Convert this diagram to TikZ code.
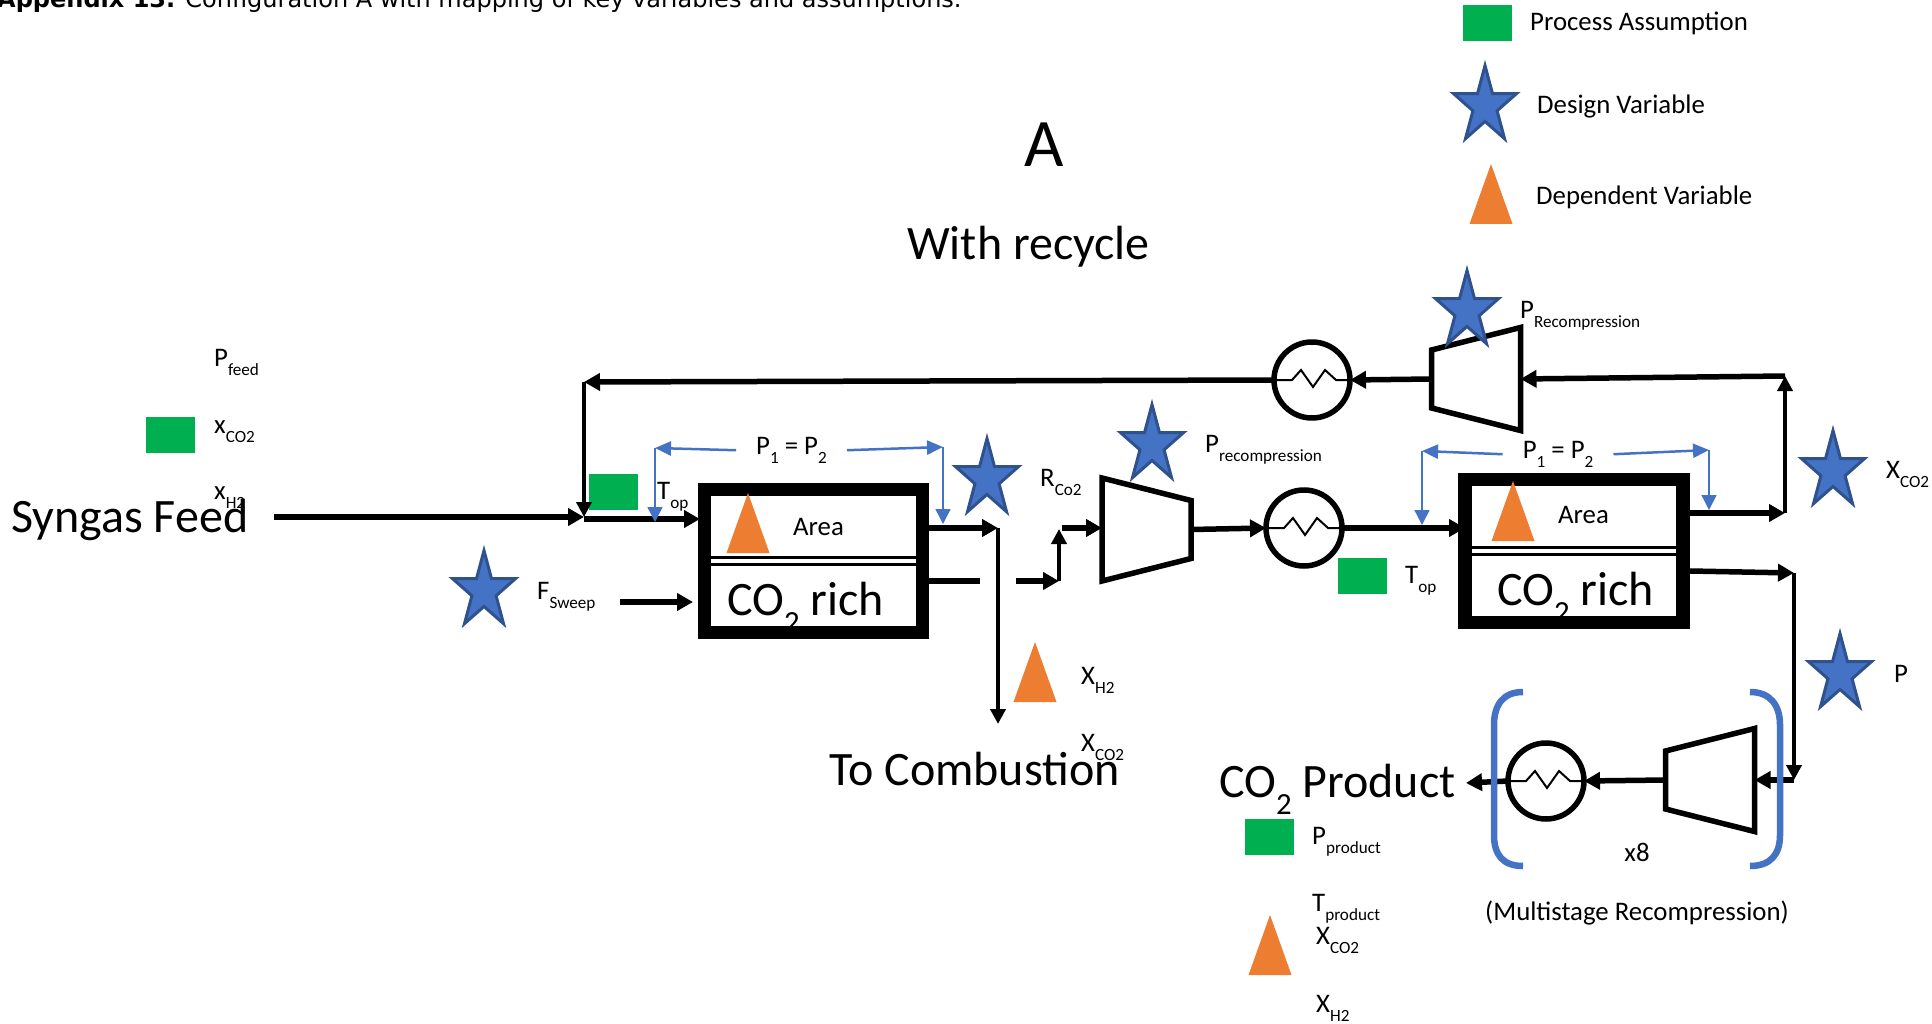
\documentclass[tikz,border=0pt]{standalone}
\usepackage{fontspec}
\setmainfont{Carlito}
\newfontfamily\capfont{DejaVu Sans}
\usetikzlibrary{positioning, calc, arrows.meta, shapes.geometric}
\definecolor{flowblue}{HTML}{4472C4}
\definecolor{staredge}{HTML}{2F528F}
\definecolor{assumegreen}{HTML}{00B050}
\definecolor{deporange}{HTML}{ED7D31}
\newcommand{\lowsub}[1]{\raisebox{-0.36em}{\scalebox{0.64}{#1}}}
\tikzset{
	lbl/.style={anchor=base west, inner sep=0pt, font=\fontsize{26.8}{32}\selectfont},
	biglbl/.style={anchor=base west, inner sep=0pt, font=\fontsize{48}{56}\selectfont},
	flowlbl/.style={anchor=base, inner ysep=0pt, inner xsep=20pt, font=\fontsize{26.8}{32}\selectfont},
	pipe/.style={line width=5.5pt, -{Triangle[length=16pt, width=17pt]}},
	riser/.style={line width=4pt, -{Triangle[length=15pt, width=15pt]}},
	blueflow/.style={draw=flowblue, line width=2.5pt, -{Triangle[length=16pt, width=14pt]}},
	bluedrop/.style={draw=flowblue, line width=1.5pt, -{Triangle[length=15pt, width=15pt]}},
	bracket/.style={draw=flowblue, line width=6.5pt},
	membrane/.style={draw, line width=13.5pt, minimum width=218pt, minimum height=143pt, outer sep=0pt},
	hxring/.style={draw, circle, line width=5.5pt, minimum size=76pt, outer sep=0pt},
	coil/.style={line width=2pt},
	compbox/.style={minimum width=89pt, minimum height=103pt, inner sep=0pt, outer sep=0pt},
	compline/.style={line width=5.5pt},
	greenmark/.style={fill=assumegreen, minimum width=49pt, minimum height=36pt, inner sep=0pt},
	starmark/.style={star, star points=5, star point ratio=2.618, fill=flowblue, draw=staredge, line width=3pt, minimum size=66.5pt, inner sep=0pt, outer sep=0pt, yscale=1.216, transform shape},
	depmark/.pic={\fill[deporange] (0,0) -- (21.5,60) -- (-21.5,60) --cycle;}
}

\begin{document}
\begin{tikzpicture}[x=1pt, y=-1pt]
	\useasboundingbox (0,0) rectangle (1932,1024);
	\node[anchor=base west, inner sep=0pt, font=\capfont\fontsize{24}{29}\selectfont] (caption) at (-3,8) {\textbf{Appendix 13.} Configuration A with mapping of key variables and assumptions.};
	% legend
	\node[greenmark] (keygreen) at (1487.5,23) {};
	\node[lbl] (keygreentxt) at (1530,31) {Process Assumption};
	\node[starmark] (keystar) at (1485,106) {};
	\node[lbl] (keystartxt) at (1537,114) {Design Variable};
	\pic at (1491,164) {depmark};
	\node[lbl] (keydeptxt) at (1536,205) {Dependent Variable};
	\node[anchor=base, inner sep=0pt, font=\fontsize{68}{80}\selectfont] (title) at (1044,167) {A};
	\node[biglbl] (subtitle) at (907,260) {With recycle};
	% feed side
	\node[lbl] (pfeed) at (214,366) {P\lowsub{feed}};
	\node[greenmark] (feedgreen) at (170.5,435) {};
	\node[lbl] (xcofeed) at (214,433) {x\lowsub{CO2}};
	\node[lbl] (xhfeed) at (214,499) {x\lowsub{H2}};
	\node[biglbl] (syngas) at (11,532) {Syngas Feed};
	\node[starmark] (sweepstar) at (484,591) {};
	\node[lbl] (fsweep) at (537,599) {F\lowsub{Sweep}};
	\node[greenmark] (topgreena) at (613.5,492) {};
	\node[lbl] (topa) at (657,499) {T\lowsub{op}};
	% units
	\node[membrane] (mema) at (813.5,561) {};
	\node[membrane] (memb) at (1574,551) {};
	\node[hxring] (hxa) at (1304,528) {};
	\node[hxring] (hxb) at (1312,380) {};
	\node[hxring] (hxc) at (1546,781) {};
	\node[compbox] (compa) at (1146.5,529.5) {};
	\node[compbox] (compb) at (1476,379) {};
	\node[compbox] (compc) at (1710,780) {};
	\draw[compline] (compa.north west) -- ($(compa.east)+(0,-29)$) -- ($(compa.east)+(0,29)$) -- (compa.south west) --cycle;
	\foreach \comp in {compb, compc} {
		\draw[compline] (\comp.north east) -- ($(\comp.west)+(0,-29)$) -- ($(\comp.west)+(0,29)$) -- (\comp.south east) --cycle;
	}
	\foreach \mem in {mema, memb} {
		\draw[line width=3.5pt] ($(\mem.west)+(0,-3.7)$) -- ($(\mem.east)+(0,-3.7)$);
		\draw[line width=3.5pt] ($(\mem.west)+(0,3.7)$) -- ($(\mem.east)+(0,3.7)$);
	}
	\foreach \hx in {hxa, hxb, hxc} {
		\draw[coil] (\hx.west) -- ++(18,0) -- ++(9,-10) -- ++(12,17) -- ++(12,-17) -- ++(11,10) -- (\hx.east);
	}
	\pic at (748,493) {depmark};
	\pic at (1513,481) {depmark};
	\node[lbl] (areaa) at (793,535) {Area};
	\node[lbl] (areab) at (1558,523) {Area};
	\node[biglbl] (richa) at (727,615) {CO\lowsub{2} rich};
	\node[biglbl] (richb) at (1497,605) {CO\lowsub{2} rich};
	% stream points
	\coordinate (feedstart) at (274,517);
	\coordinate (mixpt) at (584,517);
	\coordinate (recyclecorner) at (584,382);
	\coordinate (feedin) at (700,519);
	\coordinate (sweepstart) at (620,602);
	\coordinate (sweepin) at (693,602);
	\coordinate (raout) at (929,528);
	\coordinate (rasplit) at (998,528);
	\coordinate (combend) at (998,724);
	\coordinate (paout) at (929,581);
	\coordinate (pastub) at (980,581);
	\coordinate (pbstub) at (1016,581);
	\coordinate (pbcorner) at (1059,581);
	\coordinate (pbup) at (1059,529);
	\coordinate (compastart) at (1062,528);
	\coordinate (rbout) at (1690,513);
	\coordinate (rbend) at (1785,513);
	\coordinate (rbtop) at (1785,376);
	\coordinate (pbout) at (1690,571);
	\coordinate (pbturn) at (1794,573);
	\coordinate (pbdown) at (1794,780);
	\coordinate (prodend) at (1466,783);
	% streams
	\draw[pipe] (feedstart) -- (mixpt);
	\draw[pipe] (mixpt |- feedin) -- (feedin);
	\draw[pipe] (hxb.west) -- (recyclecorner);
	\draw[riser] (recyclecorner) -- (mixpt);
	\draw[pipe] (sweepstart) -- (sweepin);
	\draw[pipe] (raout) -- (rasplit);
	\draw[riser] (rasplit) -- (combend);
	\draw[line width=5.5pt] (paout) -- (pastub);
	\draw[pipe] (pbstub) -- (pbcorner);
	\draw[riser] (pbcorner) -- (pbup);
	\draw[pipe] (compastart) -- (compa.west |- compastart);
	\draw[pipe] (compa.east) -- (hxa.west);
	\draw[pipe] (hxa.east) -- (memb.west |- hxa.east);
	\draw[pipe] (rbout) -- (rbend);
	\draw[riser] (rbend) -- (rbtop);
	\draw[pipe] (rbtop) -- (compb.east);
	\draw[pipe] (compb.west) -- (hxb.east);
	\draw[pipe] (pbout) -- (pbturn);
	\draw[riser] (pbturn) -- (pbdown);
	\draw[pipe] (pbdown) -- (compc.east);
	\draw[pipe] (compc.west) -- (hxc.east);
	\draw[pipe] (hxc.west) -- (prodend);
	% pressure callouts
	\node[flowlbl] (psa) at (791.5,454) {P\lowsub{1} = P\lowsub{2}};
	\node[flowlbl] (psb) at (1558,458) {P\lowsub{1} = P\lowsub{2}};
	\coordinate (psaleft) at (655,448);
	\coordinate (psaright) at (943,447);
	\coordinate (psbleft) at (1422,451);
	\coordinate (psbright) at (1709,450);
	\draw[blueflow] (psa.west) -- (psaleft);
	\draw[blueflow] (psa.east) -- (psaright);
	\draw[blueflow] (psb.west) -- (psbleft);
	\draw[blueflow] (psb.east) -- (psbright);
	\coordinate (dropa) at (655,522);
	\coordinate (dropb) at (943,524);
	\coordinate (dropc) at (1422,525);
	\coordinate (dropd) at (1709,510);
	\draw[bluedrop] (psaleft) -- (dropa);
	\draw[bluedrop] (psaright) -- (dropb);
	\draw[bluedrop] (psbleft) -- (dropc);
	\draw[bluedrop] (psbright) -- (dropd);
	% middle variables
	\node[starmark] (outstar) at (987,479) {};
	\pic at (1035,642) {depmark};
	\node[lbl] (xhmid) at (1081,684) {X\lowsub{H2}};
	\node[lbl] (xcomid) at (1081,751) {X\lowsub{CO2}};
	\node[biglbl] (tocomb) at (829,785) {To Combustion};
	\node[lbl] (rco) at (1040,486) {R\lowsub{Co2}};
	\node[starmark] (recompstar) at (1152,445) {};
	\node[lbl] (precomp) at (1205,452) {P\lowsub{recompression}};
	\node[greenmark] (topgreenb) at (1362.5,576) {};
	\node[lbl] (topb) at (1405,583) {T\lowsub{op}};
	\node[starmark] (topstar) at (1467,311) {};
	\node[lbl] (precomptop) at (1520,318) {P\lowsub{Recompression}};
	\node[starmark] (xcostar) at (1833,471) {};
	\node[lbl] (xcoright) at (1886,478) {X\lowsub{CO2}};
	\node[starmark] (pstar) at (1840,674) {};
	\node[lbl] (pright) at (1894,682) {P};
	% multistage section
	\draw[bracket] (1523,692) .. controls (1503,692) and (1494,705) .. (1494,725) -- (1494,835) .. controls (1494,855) and (1503,866) .. (1523,866);
	\draw[bracket] (1750,692) .. controls (1770,692) and (1780,705) .. (1780,725) -- (1780,835) .. controls (1780,855) and (1770,866) .. (1750,866);
	\node[lbl, anchor=base] (stages) at (1637,861) {x8};
	\node[lbl] (multistage) at (1485,920) {(Multistage Recompression)};
	% product
	\node[biglbl] (coproduct) at (1219,797) {CO\lowsub{2} Product};
	\node[greenmark] (prodgreen) at (1269.5,837) {};
	\node[lbl] (pprod) at (1312,844) {P\lowsub{product}};
	\node[lbl] (tprod) at (1312,911) {T\lowsub{product}};
	\pic at (1270,915) {depmark};
	\node[lbl] (xcoprod) at (1316,944) {X\lowsub{CO2}};
	\node[lbl] (xhprod) at (1316,1012) {X\lowsub{H2}};
\end{tikzpicture}
\end{document}
